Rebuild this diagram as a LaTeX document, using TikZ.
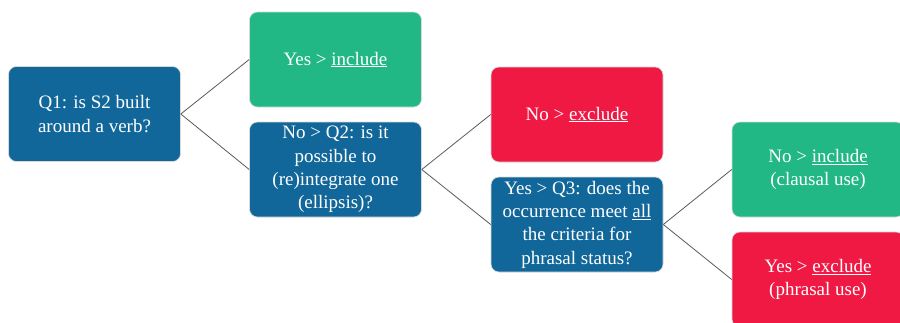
\documentclass[tikz,border=0pt]{standalone}
\usepackage{fontspec}
\setmainfont{Liberation Serif}
\definecolor{qblue}{HTML}{11679A}
\definecolor{okgreen}{HTML}{21B886}
\definecolor{nored}{HTML}{EF1944}
\definecolor{linkgray}{HTML}{5A5A5A}
\begin{document}
\begin{tikzpicture}[x=1pt,y=-1pt,
  box/.style={rounded corners=8pt, draw=white!85!black, line width=0.6pt,
    minimum width=172pt, minimum height=95pt, inner sep=0pt,
    text=white, align=center,
    font=\fontsize{19}{23.3}\selectfont},
  question/.style={box, fill=qblue},
  accept/.style={box, fill=okgreen},
  reject/.style={box, fill=nored},
  link/.style={draw=linkgray, line width=0.8pt}]
  \useasboundingbox (0,0) rectangle (900,322);
  \clip (0,0) rectangle (900,322);

  % decision boxes
  \node[question] (q1) at (94.5,114) {Q1: is S2 built\\around a verb?};
  \node[accept] (yes1) at (335.5,59.5) {Yes > \underline{include}};
  \node[question] (q2) at (335.5,169.5) {No > Q2: is it\\possible to\\(re)integrate one\\(ellipsis)?};
  \node[reject] (no2) at (577,114.5) {No > \underline{exclude}};
  \node[question] (q3) at (577,224.5) {Yes > Q3: does the\\occurrence meet \underline{all}\\the criteria for\\phrasal status?};
  \node[accept] (no3) at (818,169.5) {No > \underline{include}\\(clausal use)};
  \node[reject] (yes3) at (818,279.5) {Yes > \underline{exclude}\\(phrasal use)};

  % branches
  \draw[link] (q1.east) -- (yes1.west);
  \draw[link] (q1.east) -- (q2.west);
  \draw[link] (q2.east) -- (no2.west);
  \draw[link] (q2.east) -- (q3.west);
  \draw[link] (q3.east) -- (no3.west);
  \draw[link] (q3.east) -- (yes3.west);
\end{tikzpicture}
\end{document}
